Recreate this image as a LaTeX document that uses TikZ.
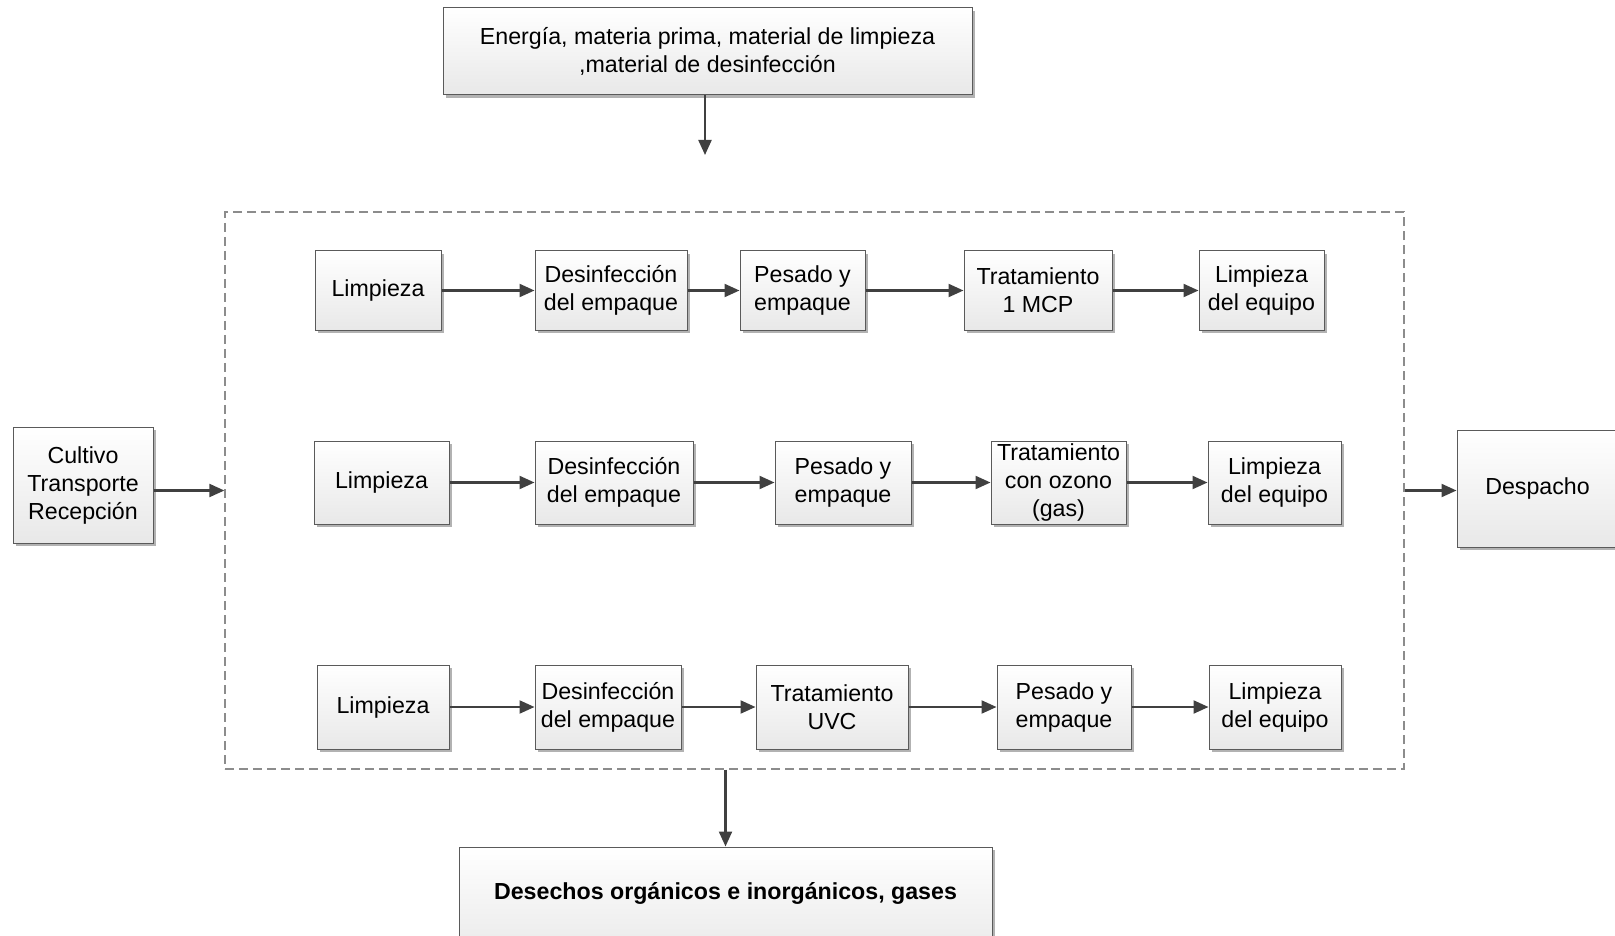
\documentclass[tikz,border=0pt]{standalone}
\usepackage{fontspec}
\setmainfont{Liberation Sans}
\usetikzlibrary{arrows.meta,shadows,calc}
\definecolor{edge}{HTML}{5A5A5A}
\definecolor{arr}{HTML}{404040}
\definecolor{dash}{HTML}{8C8C8C}
\tikzset{
  box/.style={draw=edge, line width=1pt, top color=white, bottom color=black!9,
    align=center, inner sep=0pt, font=\fontsize{23.2}{28}\selectfont,
    drop shadow={shadow xshift=3pt, shadow yshift=-3pt, fill=black!30, opacity=1}},
  flow/.style={draw=arr, line width=2.2pt, -{Triangle[length=15pt,width=13pt]}},
}
\newcommand{\bx}[7]{\node[box, minimum width=#3-#2, minimum height=#5-#4] (#1) at ({(#2+#3)/2},{(#4+#5)/2}) {#6#7};}
\begin{document}
\begin{tikzpicture}[x=1pt,y=-1pt]
\useasboundingbox (0,0) rectangle (1615,936);
% frame
\node[draw=dash, dashed, dash pattern=on 9pt off 5pt, line width=1.3pt, inner sep=0pt,
  minimum width=1179, minimum height=557] (frame) at (814.5,490.5) {};
% external boxes
\bx{top}{443}{972}{8}{95}{}{Energía, materia prima, material de limpieza\\,material de desinfección}
\bx{cult}{13}{153}{427}{543}{}{Cultivo\\Transporte\\Recepción}
\bx{desp}{1457}{1640}{430}{547}{}{\hspace*{-22pt}Despacho}
\bx{bot}{459}{992}{847}{960}{}{\raisebox{25pt}{\bfseries Desechos orgánicos e inorgánicos, gases}}
% row 1
\bx{a1}{315}{441}{251}{330}{}{Limpieza}
\bx{a2}{535}{687}{251}{330}{}{Desinfección\\del empaque}
\bx{a3}{740}{865}{251}{330}{}{Pesado y\\empaque}
\bx{a4}{964}{1112}{251}{330}{}{Tratamiento\\1 MCP}
\bx{a5}{1199}{1324}{251}{330}{}{Limpieza\\del equipo}
% row 2
\bx{b1}{314}{449}{441}{524}{}{Limpieza}
\bx{b2}{535}{693}{441}{524}{}{Desinfección\\del empaque}
\bx{b3}{775}{911}{441}{524}{}{Pesado y\\empaque}
\bx{b4}{991}{1126}{441}{524}{}{Tratamiento\\con ozono\\(gas)}
\bx{b5}{1208}{1341}{441}{524}{}{Limpieza\\del equipo}
% row 3
\bx{c1}{317}{449}{665}{749}{}{Limpieza}
\bx{c2}{535}{681}{665}{749}{}{Desinfección\\del empaque}
\bx{c3}{756}{908}{665}{749}{}{Tratamiento\\UVC}
\bx{c4}{997}{1131}{665}{749}{}{Pesado y\\empaque}
\bx{c5}{1209}{1341}{665}{749}{}{Limpieza\\del equipo}
% connectors
\foreach \r in {a,b,c}{
  \draw[flow] (\r1) -- (\r2);
  \draw[flow] (\r2) -- (\r3);
  \draw[flow] (\r3) -- (\r4);
  \draw[flow] (\r4) -- (\r5);
}
\coordinate (topend) at (705,155);
\draw[flow] (top.south -| topend) -- (topend);
\draw[flow] (frame.west -| cult.east) -- (frame.west);
\draw[flow] (frame.east) -- (frame.east -| desp.west);
\draw[flow] (frame.south -| bot.north) -- (bot.north);
\end{tikzpicture}
\end{document}
